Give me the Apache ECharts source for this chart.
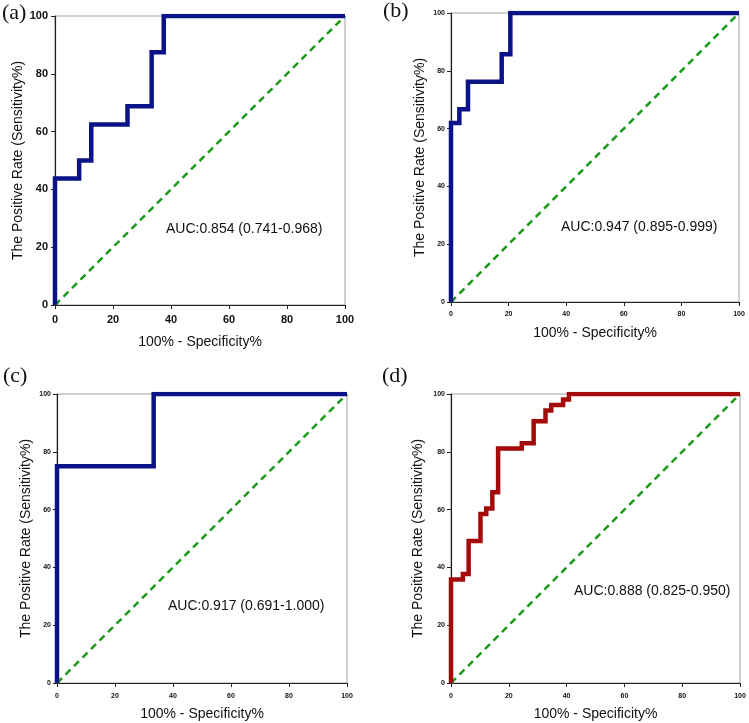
<!DOCTYPE html>
<html>
<head>
<meta charset="utf-8">
<script src="https://cdn.jsdelivr.net/npm/echarts@6/dist/echarts.min.js"></script>
<style>
html,body{margin:0;padding:0;background:#fff;}
#c{width:749px;height:723px;}
</style>
</head>
<body>
<div id="c"></div>
<script>
// ---- data ----
var panelLabels = ['(a)', '(b)', '(c)', '(d)'];
var aucTexts = ['AUC:0.854 (0.741-0.968)', 'AUC:0.947 (0.895-0.999)', 'AUC:0.917 (0.691-1.000)', 'AUC:0.888 (0.825-0.950)'];
var xTickValues = [0, 20, 40, 60, 80, 100];
var yTickValues = [0, 20, 40, 60, 80, 100];
var xTitle = '100% - Specificity%';
var yTitle = 'The Positive Rate (Sensitivity%)';

// ROC curves: [100% - specificity, sensitivity]
var rocA = [[0,0],[0,43.75],[8.33,43.75],[8.33,50],[12.5,50],[12.5,62.5],[25,62.5],[25,68.75],[33.33,68.75],[33.33,87.5],[37.5,87.5],[37.5,100],[100,100]];
var rocB = [[0,0],[0,61.9],[2.9,61.9],[2.9,66.7],[5.9,66.7],[5.9,76.2],[17.6,76.2],[17.6,85.7],[20.6,85.7],[20.6,100],[100,100]];
var rocC = [[0,0],[0,75],[33.33,75],[33.33,100],[100,100]];
var rocD = [[0,0],[0,35.8],[4.1,35.8],[4.1,37.7],[6.1,37.7],[6.1,49.1],[10.2,49.1],[10.2,58.5],[12.2,58.5],[12.2,60.4],[14.3,60.4],[14.3,66.0],[16.3,66.0],[16.3,81.1],[24.5,81.1],[24.5,83.0],[28.6,83.0],[28.6,90.6],[32.7,90.6],[32.7,94.3],[34.7,94.3],[34.7,96.2],[38.8,96.2],[38.8,98.1],[40.8,98.1],[40.8,100],[100,100]];
var reference = [[0,0],[100,100]];
var rocs = [rocA, rocB, rocC, rocD];
var curveColors = ['#0a1488', '#0a1488', '#0a1488', '#a50a0a'];

// ---- layout ----
var grids = [
  {left:55, top:16, width:290, height:289},
  {left:451, top:13, width:288, height:289},
  {left:57, top:394, width:290, height:289},
  {left:451, top:394, width:289, height:289}
];
var tickFont = [
  {fontSize:11, fontWeight:'bold'},
  {fontSize:7, fontWeight:'bold'},
  {fontSize:7, fontWeight:'bold'},
  {fontSize:7, fontWeight:'bold'}
];
var labelPos = [[2,15],[383,13],[3,378],[382,378]];
var aucPos = [[166,230],[561,228],[168,607],[574,592]];
var xNameGap = [30, 24, 24, 24];
var yNameGap = [30, 24, 24, 26];
var xLabelMargin = [9, 9, 10, 10];

var chart = echarts.init(document.getElementById('c'), null, {renderer:'canvas'});
var option = {
  animation:false,
  backgroundColor:'#fff',
  grid:[], xAxis:[], yAxis:[], series:[], graphic:[]
};
for (var i = 0; i < 4; i++) {
  var g = grids[i];
  option.grid.push({left:g.left, top:g.top, width:g.width, height:g.height, show:true, borderColor:'#a0a0a0', borderWidth:1, backgroundColor:'transparent'});
  var axCommon = {
    gridIndex:i, type:'value', min:0, max:100, interval:20,
    nameLocation:'middle',
    nameTextStyle:{fontFamily:'Liberation Sans, Arial, sans-serif', fontSize:14, color:'#111'},
    axisLine:{show:true, onZero:false, lineStyle:{color:'#222', width:1.2}},
    axisTick:{show:true, length:4, lineStyle:{color:'#222', width:1}},
    splitLine:{show:false}
  };
  option.xAxis.push(Object.assign({}, axCommon, {name:xTitle, nameGap:xNameGap[i],
    axisLabel:{fontFamily:'Liberation Sans, Arial, sans-serif', fontSize:tickFont[i].fontSize, fontWeight:tickFont[i].fontWeight, color:'#111', margin:xLabelMargin[i]}}));
  option.yAxis.push(Object.assign({}, axCommon, {name:yTitle, nameGap:yNameGap[i],
    axisLabel:{fontFamily:'Liberation Sans, Arial, sans-serif', fontSize:tickFont[i].fontSize, fontWeight:tickFont[i].fontWeight, color:'#111', margin:i===0?7:6}}));
  option.series.push({
    type:'line', xAxisIndex:i, yAxisIndex:i, data:reference, symbol:'none',
    lineStyle:{color:'#1c9a1c', width:2.5, type:[7,5]}, z:2
  });
  option.series.push({
    type:'line', xAxisIndex:i, yAxisIndex:i, data:rocs[i], symbol:'none',
    lineStyle:{color:curveColors[i], width:4.5, join:'miter', cap:'butt'}, z:3
  });
  option.graphic.push({
    type:'text', left:labelPos[i][0], top:labelPos[i][1]-13,
    style:{text:panelLabels[i], font:'22px "Liberation Serif", "Times New Roman", serif', fill:'#111'}
  });
  option.graphic.push({
    type:'text', left:aucPos[i][0], top:aucPos[i][1]-8,
    style:{text:aucTexts[i], font:'14px "Liberation Sans", Arial, sans-serif', fill:'#111'}
  });
}
chart.setOption(option);
</script>
</body>
</html>
